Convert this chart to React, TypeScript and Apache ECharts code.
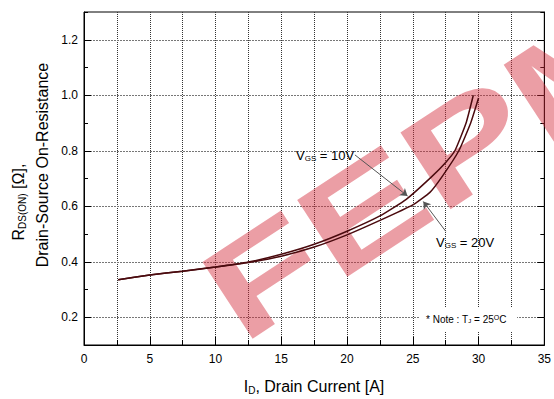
import React, { useEffect, useRef } from 'react';
import * as echarts from 'echarts';

// X axis: drain current [A]
const xMin = 0;
const xMax = 35;
const xStep = 5;
// Y axis: on-resistance [ohm]
const yMin = 0.1;
const yMax = 1.3;
const yMajorTicks = [0.2, 0.4, 0.6, 0.8, 1.0, 1.2];

// V_GS = 10 V curve
const vgs10Current = [2.6, 5, 7.5, 10, 12.5, 15, 17.5, 20, 22.5, 24.5, 26.4, 27.5, 28.2, 29.05, 29.6];
const vgs10Rds = [0.335, 0.352, 0.366, 0.381, 0.399, 0.427, 0.463, 0.51, 0.565, 0.625, 0.705, 0.758, 0.8, 0.9, 1.0];
// V_GS = 20 V curve
const vgs20Current = [2.6, 5, 7.5, 10, 12.5, 15, 17.5, 20, 22.5, 25, 26.3, 27.2, 28.5, 29.4, 30];
const vgs20Rds = [0.335, 0.352, 0.366, 0.381, 0.397, 0.42, 0.453, 0.497, 0.549, 0.605, 0.65, 0.705, 0.8, 0.9, 0.99];

// annotation arrows (from label to curve)
const arrow10 = [[20.6, 0.785], [24.6, 0.637]];
const arrow20 = [[27.5, 0.51], [25.8, 0.617]];

const FONT = 'Liberation Sans, Arial, sans-serif';

export default function App() {
  const ref = useRef<HTMLDivElement>(null);
  useEffect(() => {
    document.body.style.margin = '0';
    const chart = echarts.init(ref.current!, null, { renderer: 'svg' });
    const zip = (xs: number[], ys: number[]) => xs.map((x, i) => [x, ys[i]]);
    const curveColor = '#4a0a0e';
    const yAxisBase = {
      type: 'value',
      min: yMin,
      max: yMax,
      interval: 0.1,
      axisLine: { show: true, lineStyle: { color: '#000', width: 1 } },
      axisTick: { show: true, inside: true, length: 4, lineStyle: { color: '#000' } },
      splitLine: { show: false },
    };
    const arrowLine = (pts: number[][]) => ({
      silent: true,
      symbol: ['none', 'arrow'],
      symbolSize: 7,
      label: { show: false },
      lineStyle: { color: '#555', width: 1, type: 'solid' },
      data: [[{ coord: pts[0] }, { coord: pts[1] }]],
    });
    chart.setOption({
      animation: false,
      textStyle: { fontFamily: FONT },
      grid: {
        left: 84, top: 12, right: 9, bottom: 54,
        show: true, borderColor: '#000', borderWidth: 1, backgroundColor: 'transparent',
      },
      xAxis: {
        type: 'value',
        min: xMin,
        max: xMax,
        interval: xStep,
        axisLine: { show: true, lineStyle: { color: '#000', width: 1 } },
        axisTick: { show: true, inside: true, length: 8, lineStyle: { color: '#000' } },
        minorTick: { show: true, splitNumber: 2, length: 5, lineStyle: { color: '#000' } },
        splitLine: { show: true, lineStyle: { color: '#333', type: [1, 1], width: 1 } },
        minorSplitLine: { show: true, lineStyle: { color: '#333', type: [1, 1], width: 1 } },
        axisLabel: { color: '#000', fontSize: 12, fontFamily: FONT, margin: 8 },
      },
      yAxis: [
        {
          ...yAxisBase,
          position: 'left',
          axisLabel: {
            color: '#000', fontSize: 12, fontFamily: FONT, margin: 6,
            formatter: (v: number) => {
              const k = Math.round(v * 10);
              return k % 2 === 0 ? (k / 10).toFixed(1) : '';
            },
          },
        },
        { ...yAxisBase, position: 'right', axisLabel: { show: false } },
      ],
      series: [
        {
          type: 'custom',
          z: 1,
          silent: true,
          data: yMajorTicks.map((v) => [0, v]),
          renderItem: (params: any, api: any) => {
            const p = api.coord([0, api.value(1)]);
            const cs = params.coordSys;
            const y = Math.round(p[1]) + 0.5;
            return {
              type: 'group',
              children: [
                { type: 'line', shape: { x1: cs.x, y1: y, x2: cs.x + cs.width, y2: y }, style: { stroke: '#777', lineWidth: 1, lineDash: [2, 1] } },
                { type: 'line', shape: { x1: cs.x, y1: y, x2: cs.x + 7, y2: y }, style: { stroke: '#000', lineWidth: 1 } },
                { type: 'line', shape: { x1: cs.x + cs.width - 7, y1: y, x2: cs.x + cs.width, y2: y }, style: { stroke: '#000', lineWidth: 1 } },
              ],
            };
          },
        },
        {
          name: 'VGS = 10V',
          type: 'line',
          z: 5,
          smooth: 0.15,
          symbol: 'none',
          data: zip(vgs10Current, vgs10Rds),
          lineStyle: { color: curveColor, width: 1.5 },
          markLine: arrowLine(arrow10),
        },
        {
          name: 'VGS = 20V',
          type: 'line',
          z: 5,
          smooth: 0.15,
          symbol: 'none',
          data: zip(vgs20Current, vgs20Rds),
          lineStyle: { color: curveColor, width: 1.5 },
          markLine: arrowLine(arrow20),
        },
      ],
      graphic: [
        {
          type: 'text',
          z: 3,
          silent: true,
          x: 432,
          y: 166,
          rotation: 0.58,
          scaleX: 1.25,
          scaleY: 0.9,
          style: {
            text: 'FEPM',
            fill: 'rgba(210,40,55,0.45)',
            font: 'bold 148px Liberation Sans, Arial, sans-serif',
            textAlign: 'center',
            textVerticalAlign: 'middle',
          },
        },
        {
          type: 'rect', z: 4, silent: true,
          shape: { x: 419, y: 307, width: 98, height: 25 },
          style: { fill: '#fff' },
        },
        {
          type: 'text', z: 6, silent: true,
          x: 426, y: 319,
          style: {
            text: '* Note : T{sub|J} = 25{sup|O}C',
            font: '10px Liberation Sans, Arial, sans-serif',
            fill: '#000',
            textVerticalAlign: 'middle',
            rich: {
              sub: { fontSize: 6, fontFamily: FONT, verticalAlign: 'bottom', padding: [4, 0, 0, 0] },
              sup: { fontSize: 7, fontFamily: FONT, verticalAlign: 'top', padding: [0, 0, 3, 0] },
            },
          },
        },
        {
          type: 'text', z: 6, silent: true,
          x: 296, y: 155,
          style: {
            text: 'V{sub|GS} = 10V',
            font: '13px Liberation Sans, Arial, sans-serif',
            fill: '#000',
            textVerticalAlign: 'middle',
            rich: { sub: { fontSize: 8, fontFamily: FONT, verticalAlign: 'bottom', padding: [6, 0, 0, 0] } },
          },
        },
        {
          type: 'text', z: 6, silent: true,
          x: 436, y: 242,
          style: {
            text: 'V{sub|GS} = 20V',
            font: '13px Liberation Sans, Arial, sans-serif',
            fill: '#000',
            textVerticalAlign: 'middle',
            rich: { sub: { fontSize: 8, fontFamily: FONT, verticalAlign: 'bottom', padding: [6, 0, 0, 0] } },
          },
        },
        {
          type: 'text', z: 6, silent: true,
          x: 314, y: 386,
          style: {
            text: 'I{sub|D}, Drain Current [A]',
            font: '16px Liberation Sans, Arial, sans-serif',
            fill: '#000',
            textAlign: 'center',
            textVerticalAlign: 'middle',
            rich: { sub: { fontSize: 10, fontFamily: FONT, verticalAlign: 'bottom', padding: [8, 0, 0, 0] } },
          },
        },
        {
          type: 'text', z: 6, silent: true,
          x: 18, y: 202,
          rotation: Math.PI / 2,
          style: {
            text: 'R{sub|DS(ON)} [Ω],',
            font: '16px Liberation Sans, Arial, sans-serif',
            fill: '#000',
            textAlign: 'center',
            textVerticalAlign: 'middle',
            rich: { sub: { fontSize: 10, fontFamily: FONT, verticalAlign: 'bottom', padding: [8, 0, 0, 0] } },
          },
        },
        {
          type: 'text', z: 6, silent: true,
          x: 42, y: 165,
          rotation: Math.PI / 2,
          style: {
            text: 'Drain-Source On-Resistance',
            font: '16px Liberation Sans, Arial, sans-serif',
            fill: '#000',
            textAlign: 'center',
            textVerticalAlign: 'middle',
          },
        },
      ],
    });
    return () => chart.dispose();
  }, []);
  return <div ref={ref} style={{ width: 554, height: 399 }} />;
}
